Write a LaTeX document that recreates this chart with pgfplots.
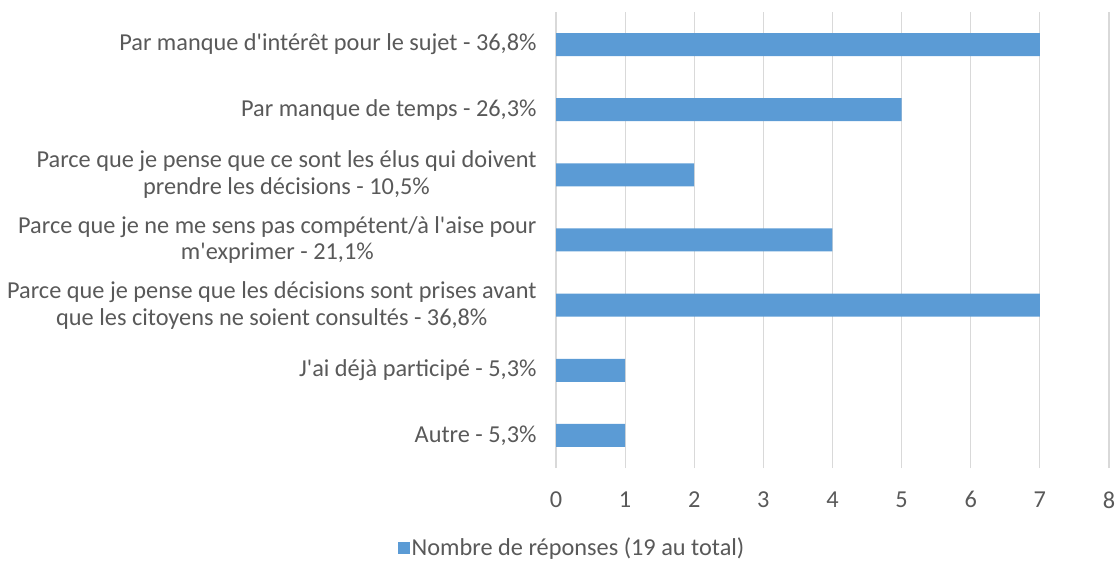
\documentclass[border=0pt]{standalone}
\usepackage{fontspec}
\setmainfont{Carlito}[Ligatures=TeXOff]
\usepackage{pgfplots}
\pgfplotsset{compat=1.18}
\definecolor{barblue}{HTML}{5B9BD5}
\definecolor{txtgrey}{HTML}{595959}
\definecolor{gridgrey}{HTML}{D9D9D9}
\begin{document}
\begin{tikzpicture}
\useasboundingbox (0,0) rectangle (1118bp,563bp);
\begin{axis}[
  at={(556bp,95bp)}, anchor=south west,
  scale only axis, width=553bp, height=456bp,
  xbar, bar width=23bp,
  xmin=0, xmax=8, ymin=-0.5, ymax=6.5,
  xtick={0,...,8}, ytick={0,...,6},
  /pgf/number format/assume math mode=true,
  yticklabels={
    {Autre - 5,3\%},
    {J'ai déjà participé - 5,3\%},
    {Parce que je pense que les décisions sont prises avant\\que les citoyens ne soient consultés - 36,8\%},
    {Parce que je ne me sens pas compétent/à l'aise pour\\m'exprimer - 21,1\%},
    {Parce que je pense que ce sont les élus qui doivent\\prendre les décisions - 10,5\%},
    {Par manque de temps - 26,3\%},
    {Par manque d'intérêt pour le sujet - 36,8\%}},
  yticklabel style={align=center, font=\fontsize{24.4}{27}\selectfont, text=txtgrey, xshift=-16bp},
  xticklabel style={font=\fontsize{24.4}{27}\selectfont, text=txtgrey, yshift=-20bp},
  major tick length=0pt,
  axis line style={draw=none},
  xmajorgrids, grid style={gridgrey, line width=1.2bp},
  legend style={at={(0.029,-0.175)}, anchor=center, draw=none, font=\fontsize{24.4}{27}\selectfont, text=txtgrey},
  legend image code/.code={\fill[#1] (0bp,-6bp) rectangle (12bp,6bp);},
]
\addplot[fill=barblue, draw=none] coordinates {
  (1,0) (1,1) (7,2) (4,3) (2,4) (5,5) (7,6)};
\addlegendentry{Nombre de réponses (19 au total)}
\end{axis}
\end{tikzpicture}
\end{document}
